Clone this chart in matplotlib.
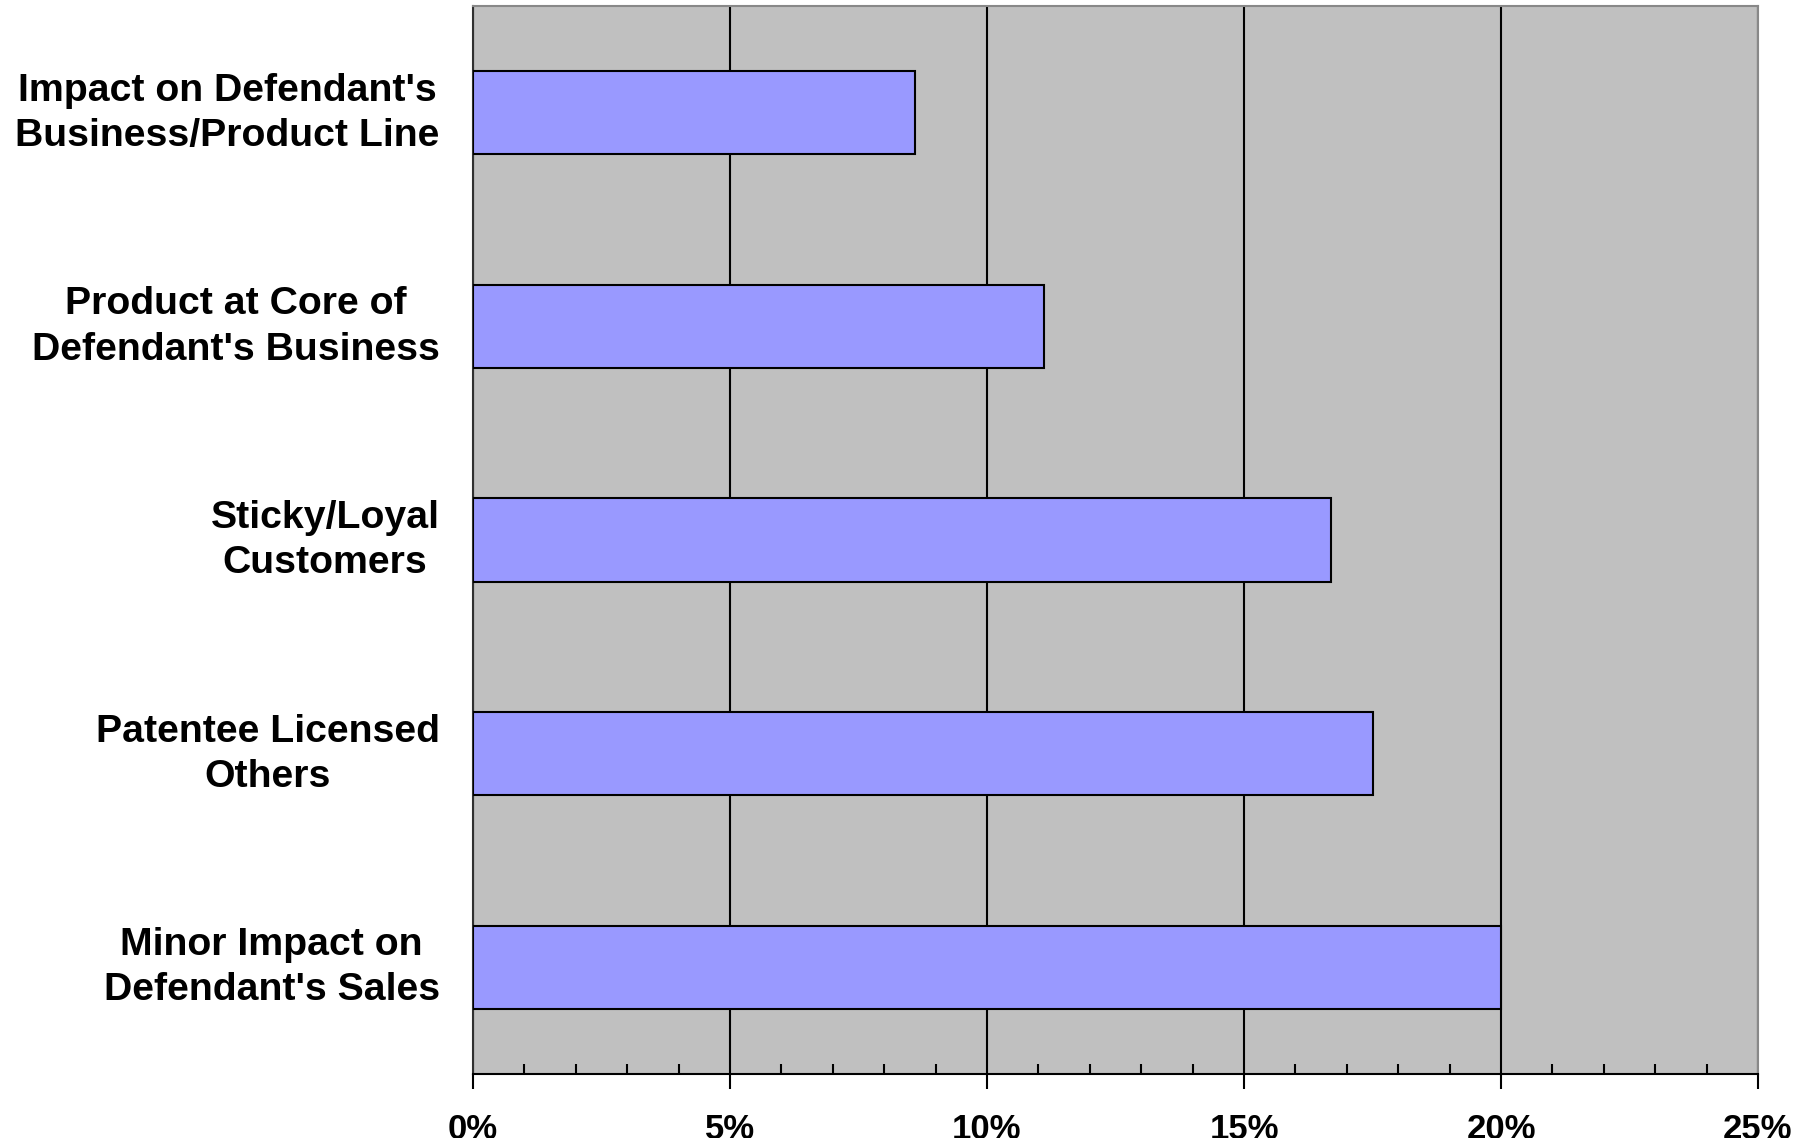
import matplotlib
matplotlib.use("Agg")
import matplotlib.pyplot as plt
from matplotlib.ticker import MultipleLocator, FuncFormatter
from matplotlib.transforms import ScaledTranslation

categories = [
    "Impact on Defendant's\nBusiness/Product Line",
    "Product at Core of\nDefendant's Business",
    "Sticky/Loyal\nCustomers",
    "Patentee Licensed\nOthers",
    "Minor Impact on\nDefendant's Sales",
]
values = [8.6, 11.1, 16.7, 17.5, 20.0]
x_ticks = [0, 5, 10, 15, 20, 25]

plt.rcParams['font.family'] = ['Liberation Sans', 'DejaVu Sans']

fig = plt.figure(figsize=(18.04, 11.38), dpi=100)
ax = fig.add_axes([473/1804, 1 - 1074/1138, (1758-473)/1804, (1074-6)/1138])
ax.set_facecolor('#C0C0C0')

ypos = list(range(len(categories)))
ax.set_xlim(0, 25)
ax.set_ylim(len(categories) - 0.5, -0.5)

ax.set_xticks(x_ticks)
ax.xaxis.set_minor_locator(MultipleLocator(1))
ax.xaxis.set_major_formatter(FuncFormatter(lambda v, p: f"{int(round(v))}%"))
ax.grid(axis='x', which='major', color='black', linewidth=1.5, zorder=1)
ax.set_axisbelow(True)

ax.barh(ypos, values, height=0.39, color='#9999FF', edgecolor='black', linewidth=1.5, zorder=3)

ax.set_yticks(ypos)
ax.set_yticklabels(categories, fontsize=28.3, fontweight='bold', multialignment='center',
                   linespacing=1.33)
ax.tick_params(axis='y', length=0, pad=24)
ax.tick_params(axis='x', which='major', direction='out', length=11, width=1.5, pad=17,
               labelsize=25, colors='black')
for lbl in ax.get_xticklabels():
    lbl.set_fontweight('bold')
ax.tick_params(axis='x', which='minor', direction='in', length=7, width=1.5, color='black')

shift = ScaledTranslation(0, 8/100, fig.dpi_scale_trans)
for lbl in ax.get_yticklabels():
    lbl.set_transform(lbl.get_transform() + shift)

ax.spines['bottom'].set_color('black')
ax.spines['bottom'].set_linewidth(1.5)
ax.spines['left'].set_color('#303030')
ax.spines['left'].set_linewidth(1.5)
ax.spines['top'].set_color('#888888')
ax.spines['top'].set_linewidth(1.5)
ax.spines['right'].set_color('#888888')
ax.spines['right'].set_linewidth(1.5)

fig.savefig('out.png', dpi=100, facecolor='white')
